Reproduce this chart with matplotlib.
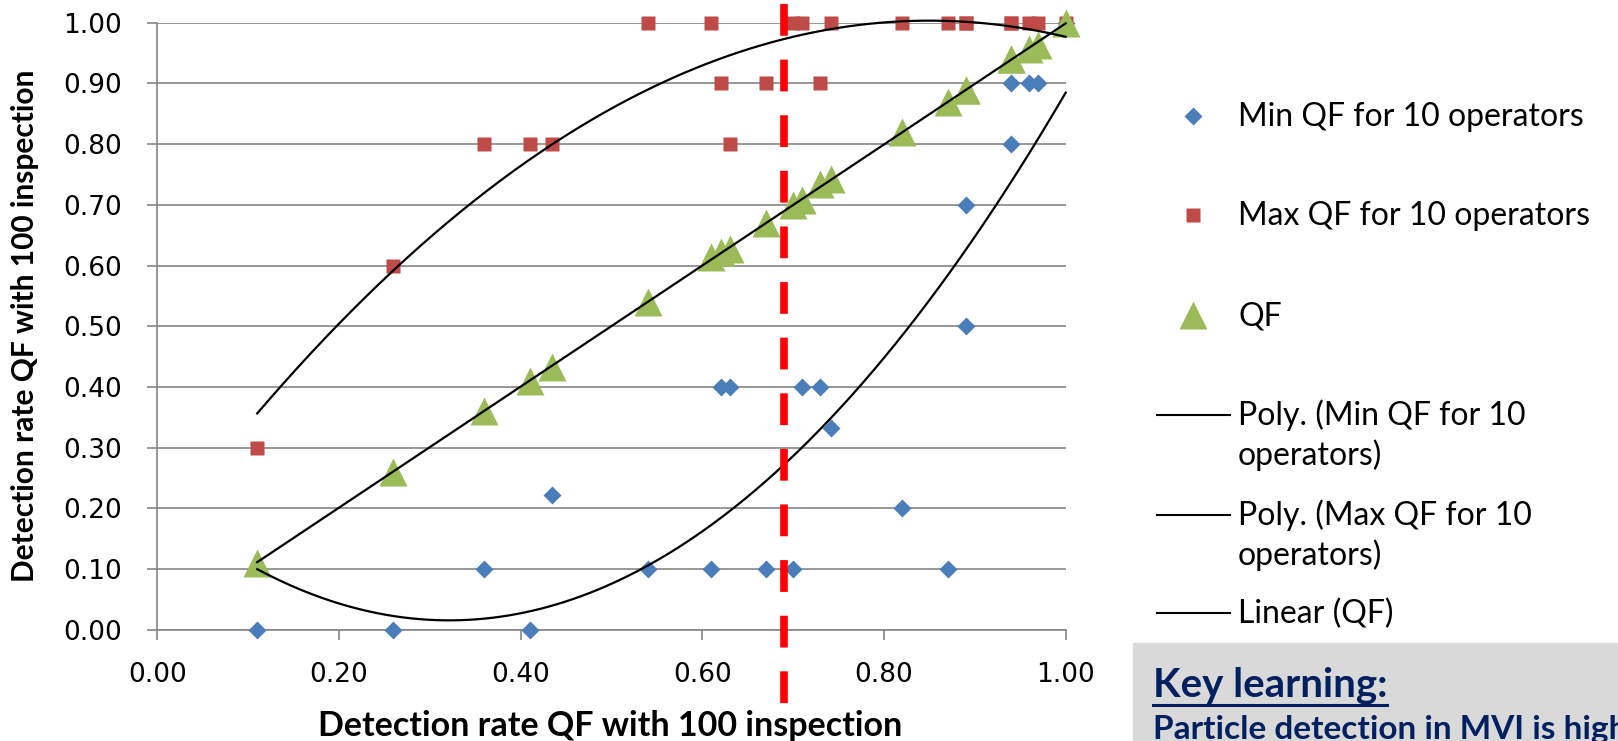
import numpy as np
import matplotlib
matplotlib.use('Agg')
from matplotlib import pyplot as plt
from matplotlib.lines import Line2D
from matplotlib.patches import Rectangle

# detection rate QF with 100 inspection (x values, shared by all series)
rate_100 = [0.11, 0.26, 0.36, 0.41, 0.434, 0.54, 0.61, 0.62, 0.63, 0.67, 0.70, 0.71,
            0.73, 0.742, 0.82, 0.87, 0.89, 0.89, 0.94, 0.94, 0.96, 0.97, 1.00]
# min / max QF of the 10 operators
min_qf = [0.00, 0.00, 0.10, 0.00, 0.222, 0.10, 0.10, 0.40, 0.40, 0.10, 0.10, 0.40,
          0.40, 0.333, 0.20, 0.10, 0.50, 0.70, 0.80, 0.90, 0.90, 0.90, 1.00]
max_qf = [0.30, 0.60, 0.80, 0.80, 0.80, 1.00, 1.00, 0.90, 0.80, 0.90, 1.00, 1.00,
          0.90, 1.00, 1.00, 1.00, 1.00, 1.00, 1.00, 1.00, 1.00, 1.00, 1.00]
qf = [0.11, 0.26, 0.36, 0.41, 0.433, 0.54, 0.614, 0.623, 0.628, 0.67, 0.70, 0.708,
      0.735, 0.742, 0.82, 0.87, 0.889, 0.889, 0.94, 0.94, 0.956, 0.963, 1.00]

threshold = 0.69
y_ticks = np.arange(0, 1.001, 0.1)
x_ticks = np.arange(0, 1.001, 0.2)

axis_title = 'Detection rate QF with 100 inspection'
legend_labels = ['Min QF for 10 operators', 'Max QF for 10 operators', 'QF',
                 'Poly. (Min QF for 10\noperators)', 'Poly. (Max QF for 10\noperators)',
                 'Linear (QF)']
key_title = 'Key learning:'
key_text = 'Particle detection in MVI is highly operator dependent'

blue = '#4A7EBB'
red = '#BE4B48'
green = '#9BBB59'
grey = '#868686'
navy = '#002060'

W, H = 1618, 741
fig = plt.figure(figsize=(W / 100, H / 100), dpi=100)
ax = fig.add_axes([157.3 / W, 1 - 629.7 / H, 908.4 / W, 607 / H])

# scatter series
ax.plot(rate_100, min_qf, ls='none', marker='D', ms=8.7, mfc=blue, mec='none',
        clip_on=False, zorder=3)
ax.plot(rate_100, max_qf, ls='none', marker='s', ms=10.3, mfc=red, mec='none',
        clip_on=False, zorder=3)
ax.plot(rate_100, qf, ls='none', marker='^', ms=20.5, mfc=green, mec='none',
        clip_on=False, zorder=4)

# trend lines (poly order 2 for min/max, linear for QF)
xs = np.linspace(min(rate_100), max(rate_100), 300)
for ys, deg in [(min_qf, 2), (max_qf, 2), (qf, 1)]:
    p = np.polyfit(rate_100, ys, deg)
    ax.plot(xs, np.polyval(p, xs), color='black', lw=1.6, zorder=5, clip_on=False)

# red dashed threshold
ax.plot([threshold, threshold], [1.030, -0.129], color='#FF0000', lw=5.5,
        ls=(0, (4.16, 3.12)), dash_capstyle='butt', clip_on=False, zorder=6)

ax.set_xlim(0, 1)
ax.set_ylim(0, 1)
ax.set_xticks(x_ticks)
ax.set_xticklabels(['%.2f' % v for v in x_ticks])
ax.set_yticks(y_ticks)
ax.set_yticklabels(['%.2f' % v for v in y_ticks])
ax.grid(axis='y', color=grey, lw=1.2)
ax.set_axisbelow(True)
for s in ['top', 'right']:
    ax.spines[s].set_visible(False)
for s in ['left', 'bottom']:
    ax.spines[s].set_color(grey)
    ax.spines[s].set_linewidth(1.2)
ax.tick_params(axis='both', direction='out', length=7.2, width=1.2, color=grey,
               labelsize=19)
ax.tick_params(axis='y', pad=18)
ax.tick_params(axis='x', pad=16)

ax.set_xlabel(axis_title, fontsize=24.5, fontweight='bold', family='Lato')
ax.xaxis.set_label_coords(0.498, -0.158)
ax.xaxis.label.set_va('center')
ax.set_ylabel(axis_title, fontsize=21.5, fontweight='bold', family='Lato')
ax.yaxis.set_label_coords(-0.146, 0.5)
ax.yaxis.label.set_va('center')


# legend drawn by hand so two-line entries sit like the original
def fx(px):
    return px / W


def fy(py):
    return 1 - py / H


marker_styles = [('D', 8.7, blue), ('s', 10.3, red), ('^', 20.5, green)]
rows = [116, 215, 315, 415, 515, 613]
for i, lab in enumerate(legend_labels):
    y = rows[i]
    if i < 3:
        m, ms, c = marker_styles[i]
        fig.add_artist(Line2D([fx(1193)], [fy(y)], ls='none', marker=m, ms=ms, mfc=c,
                              mec='none', transform=fig.transFigure))
    else:
        fig.add_artist(Line2D([fx(1157), fx(1230)], [fy(y), fy(y)], color='black', lw=1.5,
                              transform=fig.transFigure))
    for k, line in enumerate(lab.split('\n')):
        fig.text(fx(1238), fy(y + 10 + 40 * k), line, fontsize=23, family='Lato',
                 va='baseline', ha='left')

# key learning box
fig.add_artist(Rectangle((fx(1132.7), 0), 1 - fx(1132.7), (741 - 643) / H,
                         transform=fig.transFigure, color='#D9D9D9', zorder=0))
t = fig.text(fx(1152.7), fy(697), key_title, fontsize=29, fontweight='bold', family='Lato',
             color=navy, va='baseline', ha='left')
fig.text(fx(1152.7), fy(739), key_text, fontsize=24, fontweight='bold', family='Lato',
         color=navy, va='baseline', ha='left')
fig.canvas.draw()
bb = t.get_window_extent()
fig.add_artist(Line2D([bb.x0 / W, bb.x1 / W], [fy(705), fy(705)], color=navy, lw=2.2,
                      transform=fig.transFigure))

plt.savefig('out.png', dpi=100)
